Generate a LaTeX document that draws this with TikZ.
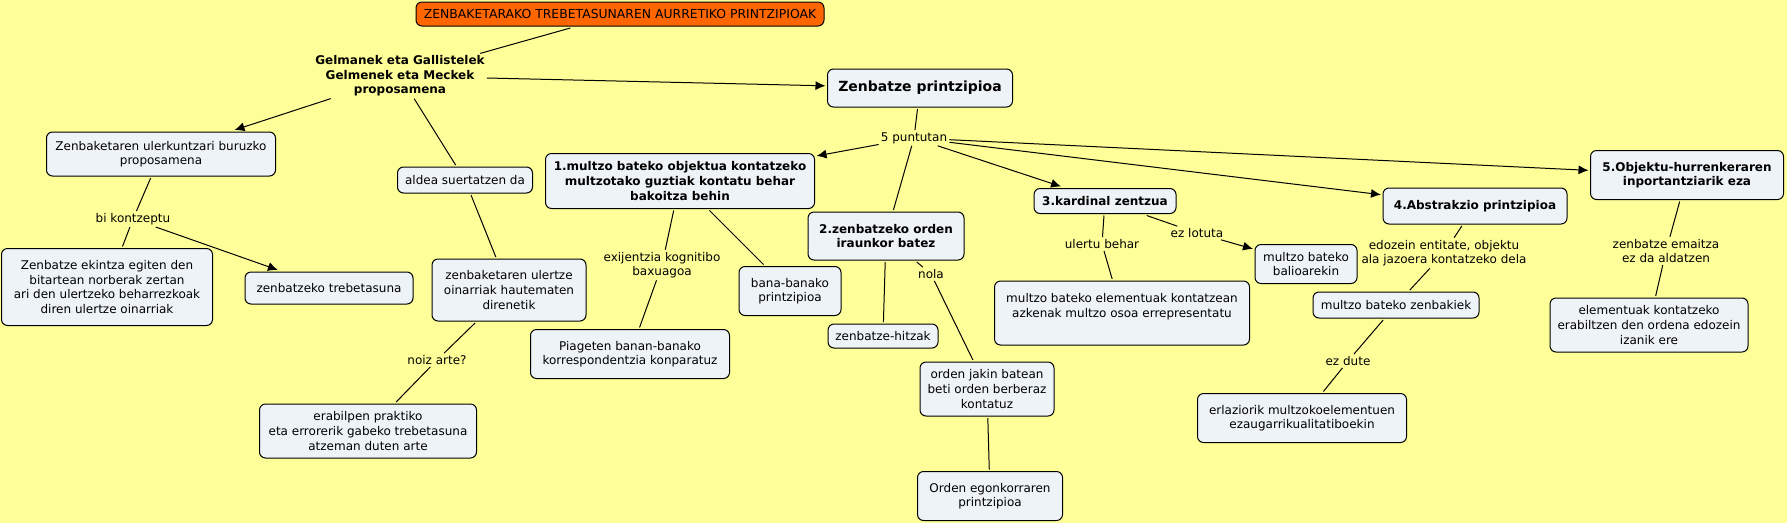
\documentclass[tikz,border=0pt]{standalone}
\usepackage{fontspec}
\setmainfont{DejaVu Sans}
\usetikzlibrary{arrows.meta}
\definecolor{Paper}{HTML}{FFFF99}
\definecolor{Pale}{HTML}{EEF3F7}
\definecolor{Flame}{HTML}{FF6600}
\newcommand{\cmapfont}{\fontsize{12}{14.6}\selectfont}
\newcommand{\cmapbold}{\fontsize{12}{14.6}\selectfont\bfseries}

\begin{document}
\begin{tikzpicture}[x=1pt,y=-1pt,
  concept/.style={rounded corners=6pt,draw=black,line width=1pt,fill=Pale,align=center,font=\cmapfont,inner xsep=6pt,inner ysep=6pt,outer sep=2pt},
  concept2/.style={concept,font=\cmapbold},
  head/.style={concept,fill=Flame,font=\fontsize{12.4}{14}\selectfont},
  link/.style={align=center,font=\cmapfont,inner sep=2pt},
  link2/.style={link,font=\cmapbold},
  line/.style={draw=black,line width=1pt},
  arrow/.style={line,-{Latex[length=10pt,width=9pt]}}
]
\fill[Paper] (0,0) rectangle (1787,523);
\useasboundingbox (0,0) rectangle (1787,523);

% top
\node[head,minimum width=408,minimum height=24] (title) at (620,14) {ZENBAKETARAKO TREBETASUNAREN AURRETIKO PRINTZIPIOAK};
\node[link2] (gelman) at (400,76) {Gelmanek eta Gallistelek\\Gelmenek eta Meckek\\proposamena};
\node[concept,font=\fontsize{14}{17}\selectfont\bfseries,minimum width=185,minimum height=38] (zprint) at (920,88) {Zenbatze printzipioa};

% left part
\node[concept,minimum width=229,minimum height=44] (ulerk) at (161,154) {Zenbaketaren ulerkuntzari buruzko\\proposamena};
\node[concept,minimum width=135,minimum height=26] (aldea) at (465,180) {aldea suertatzen da};
\node[link] (bikon) at (133,219) {bi kontzeptu};
\node[concept,minimum width=211,minimum height=77] (ekintza) at (107,287) {Zenbatze ekintza egiten den\\bitartean norberak zertan\\ari den ulertzeko beharrezkoak\\diren ulertze oinarriak};
\node[concept,minimum width=168,minimum height=32] (trebe) at (329,288) {zenbatzeko trebetasuna};
\node[concept,minimum width=154,minimum height=62] (ulertze) at (509,290) {zenbaketaren ulertze\\oinarriak hautematen\\direnetik};
\node[link] (noiz) at (437,360) {noiz arte?};
\node[concept,minimum width=217,minimum height=54] (erabil) at (368,431) {erabilpen praktiko\\eta errorerik gabeko trebetasuna\\atzeman duten arte};

% the five principles
\node[link] (bostp) at (914,138) {5 puntutan};
\node[concept2,minimum width=269,minimum height=55] (multzo1) at (680,181) {1.multzo bateko objektua kontatzeko\\multzotako guztiak kontatu behar\\bakoitza behin};
\node[link] (exij) at (662,265) {exijentzia kognitibo\\baxuagoa};
\node[concept,minimum width=199,minimum height=49] (piaget) at (630,354) {Piageten banan-banako\\korrespondentzia konparatuz};
\node[concept,minimum width=102,minimum height=49] (banaka) at (790,291) {bana-banako\\printzipioa};
\node[concept2,minimum width=156,minimum height=48] (orden2) at (886,236) {2.zenbatzeko orden\\iraunkor batez};
\node[concept,minimum width=110,minimum height=24] (hitzak) at (883,336) {zenbatze-hitzak};
\node[link] (nola) at (931,274) {nola};
\node[concept,minimum width=134,minimum height=54] (jakin) at (987,389) {orden jakin batean\\beti orden berberaz\\kontatuz};
\node[concept,minimum width=145,minimum height=49] (egonk) at (990,496) {Orden egonkorraren\\printzipioa};
\node[concept2,minimum width=142,minimum height=25] (kardin) at (1105,201) {3.kardinal zentzua};
\node[link] (ulertu) at (1102,244) {ulertu behar};
\node[concept,minimum width=255,minimum height=64] (azken) at (1122,313) {multzo bateko elementuak kontatzean\\azkenak multzo osoa errepresentatu\\~};
\node[link] (lotuta) at (1197,233) {ez lotuta};
\node[concept,minimum width=102,minimum height=39] (balio) at (1306,264) {multzo bateko\\balioarekin};
\node[concept2,minimum width=184,minimum height=36] (abstr) at (1475,206) {4.Abstrakzio printzipioa};
\node[link] (edozein) at (1444,253) {edozein entitate, objektu\\ala jazoera kontatzeko dela};
\node[concept,minimum width=166,minimum height=26] (zenbak) at (1396,305) {multzo bateko zenbakiek};
\node[link] (ezdute) at (1348,361) {ez dute};
\node[concept,minimum width=209,minimum height=49] (erlaz) at (1302,418) {erlaziorik multzokoelementuen\\ezaugarrikualitatiboekin};
\node[concept2,minimum width=193,minimum height=49] (objek) at (1687,175) {5.Objektu-hurrenkeraren\\inportantziarik eza};
\node[link] (emaitza) at (1666,251) {zenbatze emaitza\\ez da aldatzen};
\node[concept,minimum width=198,minimum height=54] (edoz5) at (1649,325) {elementuak kontatzeko\\erabiltzen den ordena edozein\\izanik ere};

% connectors
\draw[line] (title) -- (gelman);
\draw[arrow] (gelman) -- (zprint);
\draw[arrow] (gelman) -- (ulerk);
\draw[line] (gelman) -- (aldea);
\draw[line] (aldea) -- (ulertze);
\draw[line] (ulertze) -- (noiz);
\draw[line] (noiz) -- (erabil);
\draw[line] (ulerk) -- (bikon);
\draw[line] (bikon) -- (ekintza);
\draw[arrow] (bikon) -- (trebe);
\draw[line] (zprint) -- (bostp);
\draw[arrow] (bostp) -- (multzo1);
\draw[line] (bostp) -- (orden2);
\draw[arrow] (bostp) -- (kardin);
\draw[arrow] (bostp) -- (abstr);
\draw[arrow] (bostp) -- (objek);
\draw[line] (multzo1) -- (exij);
\draw[line] (exij) -- (piaget);
\draw[line] (multzo1) -- (banaka);
\draw[line] (orden2) -- (hitzak);
\draw[line] (orden2) -- (nola);
\draw[line] (nola) -- (jakin);
\draw[line] (jakin) -- (egonk);
\draw[line] (kardin) -- (ulertu);
\draw[line] (ulertu) -- (azken);
\draw[line] (kardin) -- (lotuta);
\draw[arrow] (lotuta) -- (balio);
\draw[line] (abstr) -- (edozein);
\draw[line] (edozein) -- (zenbak);
\draw[line] (zenbak) -- (ezdute);
\draw[line] (ezdute) -- (erlaz);
\draw[line] (objek) -- (emaitza);
\draw[line] (emaitza) -- (edoz5);
\end{tikzpicture}
\end{document}
